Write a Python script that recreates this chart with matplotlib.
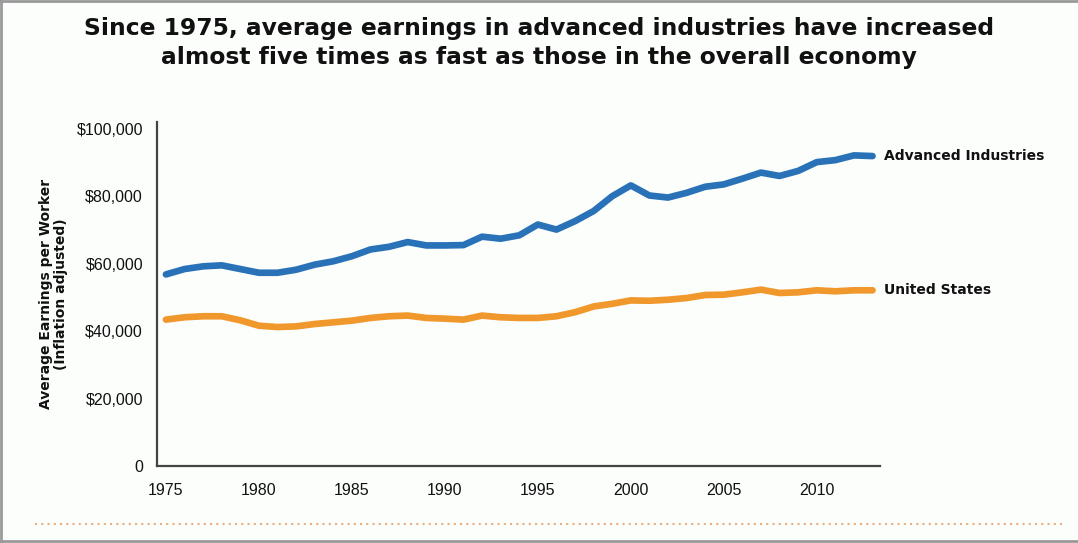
import matplotlib
matplotlib.use("Agg")
import matplotlib.pyplot as plt
from matplotlib.lines import Line2D

years = list(range(1975, 2014))
advanced = [56800, 58400, 59200, 59500, 58400, 57300, 57300, 58200, 59700, 60700,
            62200, 64200, 65000, 66400, 65400, 65400, 65500, 68000, 67400, 68400,
            71600, 70100, 72600, 75600, 80000, 83200, 80200, 79600, 81000, 82800,
            83500, 85200, 87000, 86000, 87500, 90100, 90700, 92100, 91900]
united_states = [43400, 44100, 44400, 44400, 43200, 41600, 41200, 41400, 42100, 42600,
                 43100, 43900, 44400, 44600, 43900, 43700, 43400, 44600, 44100, 43900,
                 43900, 44400, 45600, 47300, 48100, 49100, 49000, 49300, 49800, 50700,
                 50800, 51500, 52300, 51300, 51500, 52100, 51800, 52100, 52100]
series_labels = ["Advanced Industries", "United States"]
xticks = [1975, 1980, 1985, 1990, 1995, 2000, 2005, 2010]
yticks = [0, 20000, 40000, 60000, 80000, 100000]
ytick_labels = ["0", "$20,000", "$40,000", "$60,000", "$80,000", "$100,000"]
title = ("Since 1975, average earnings in advanced industries have increased\n"
         "almost five times as fast as those in the overall economy")
ylabel = "Average Earnings per Worker\n(Inflation adjusted)"

BLUE = "#2a72b8"
ORANGE = "#f0982c"
bg = "#fcfefc"

W, H = 1078, 543
fig = plt.figure(figsize=(W / 100, H / 100), dpi=100, facecolor=bg)

ax = fig.add_axes([157 / W, 1 - 466 / H, (880 - 157) / W, (466 - 122) / H])
ax.set_facecolor(bg)
ax.plot(years, advanced, color=BLUE, lw=4.8, solid_capstyle="round", solid_joinstyle="round")
ax.plot(years, united_states, color=ORANGE, lw=4.8, solid_capstyle="round", solid_joinstyle="round")

ax.set_xlim(1974.52, 2013.4)
ax.set_ylim(0, 102000)
ax.spines["top"].set_visible(False)
ax.spines["right"].set_visible(False)
for s in ["left", "bottom"]:
    ax.spines[s].set_color("#444444")
    ax.spines[s].set_linewidth(1.6)
ax.set_xticks(xticks)
ax.set_xticklabels([str(x) for x in xticks], fontsize=11.5, family="Liberation Sans", color="#111111")
ax.set_yticks(yticks)
ax.set_yticklabels(ytick_labels, fontsize=11.5, family="Liberation Sans", color="#111111")
ax.tick_params(axis="both", length=0)
ax.tick_params(axis="x", pad=12)
ax.tick_params(axis="y", pad=10)

ax.set_ylabel(ylabel, fontsize=10, fontweight="bold", family="DejaVu Sans",
              color="#111111", labelpad=6, linespacing=1.15)

ax.annotate(series_labels[0], xy=(years[-1], advanced[-1]), xytext=(8, 0),
            textcoords="offset points", va="center", ha="left",
            fontsize=10, fontweight="bold", color="#111111", annotation_clip=False)
ax.annotate(series_labels[1], xy=(years[-1], united_states[-1]), xytext=(8, 0),
            textcoords="offset points", va="center", ha="left",
            fontsize=10, fontweight="bold", color="#111111", annotation_clip=False)

fig.text(0.5, 1 - 43 / H, title, ha="center", va="center", fontsize=16.8,
         fontweight="bold", color="#111111", linespacing=1.3)

# dotted separator line
fig.add_artist(Line2D([35 / W, 1062 / W], [1 - 524 / H, 1 - 524 / H],
                      transform=fig.transFigure, color="#e8b080", lw=1.5,
                      linestyle=(0, (1, 2))))
# frame (left, top, bottom)
frame_kw = dict(transform=fig.transFigure, color="#999999", lw=2.0)
fig.add_artist(Line2D([0.001, 0.001], [0, 1], **frame_kw))
fig.add_artist(Line2D([0, 1], [0.998, 0.998], **frame_kw))
fig.add_artist(Line2D([0, 1], [0.003, 0.003], **frame_kw))

fig.savefig("out.png", dpi=100, facecolor=bg)
